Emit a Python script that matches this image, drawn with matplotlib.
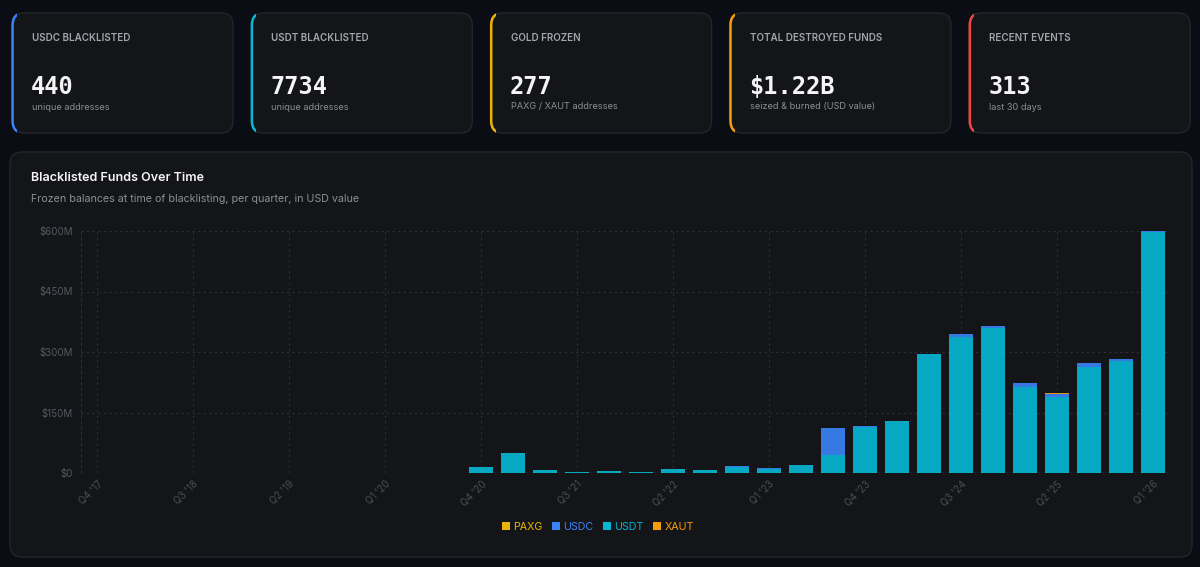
import matplotlib
matplotlib.use("Agg")
import matplotlib.pyplot as plt
from matplotlib.patches import FancyBboxPatch, Rectangle, Patch
import numpy as np

# quarters on the x axis
quarters = ["Q4 '17", "Q1 '18", "Q2 '18", "Q3 '18", "Q4 '18", "Q1 '19", "Q2 '19",
            "Q3 '19", "Q4 '19", "Q1 '20", "Q2 '20", "Q3 '20", "Q4 '20", "Q1 '21",
            "Q2 '21", "Q3 '21", "Q4 '21", "Q1 '22", "Q2 '22", "Q3 '22", "Q4 '22",
            "Q1 '23", "Q2 '23", "Q3 '23", "Q4 '23", "Q1 '24", "Q2 '24", "Q3 '24",
            "Q4 '24", "Q1 '25", "Q2 '25", "Q3 '25", "Q4 '25", "Q1 '26"]

# frozen value per quarter, $M
paxg = [0] * 34
usdc = [0, 0, 0, 0, 0, 0, 0, 0, 0, 0, 0, 0, 0, 0, 0, 0, 1.5, 0, 0, 0, 1.5,
        2, 0, 67, 1, 1, 1, 8, 5, 10, 8, 8, 5, 1]
usdt = [0, 0, 0, 0, 0.5, 0, 0, 0, 0, 0, 0.8, 0, 15, 50, 7, 3.5, 4, 3, 10, 8.5, 15,
        10, 21, 44, 115, 129, 295, 337, 360, 214, 189, 264, 278, 598]
xaut = [0, 0, 0, 0, 0, 0, 0, 0, 0, 0, 0, 0, 0, 0, 0, 0, 0, 0, 0, 0, 0,
        0, 0, 0, 0, 0, 0, 0, 0, 0, 1.5, 0, 0, 0]

series = ["PAXG", "USDC", "USDT", "XAUT"]
colors = {"PAXG": "#eab308", "USDC": "#3b82f6", "USDT": "#06b6d4", "XAUT": "#f59e0b"}

cards = [
    ("USDC BLACKLISTED", "440", "unique addresses", "#3b82f6"),
    ("USDT BLACKLISTED", "7734", "unique addresses", "#06b6d4"),
    ("GOLD FROZEN", "277", "PAXG / XAUT addresses", "#eab308"),
    ("TOTAL DESTROYED FUNDS", "$1.22B", "seized & burned (USD value)", "#f59e0b"),
    ("RECENT EVENTS", "313", "last 30 days", "#ef4444"),
]

PAGE = "#0a0d13"
CARD = "#141518"
BORDER = "#24262b"
W, H = 1200, 567

fig = plt.figure(figsize=(12, 5.67), dpi=100, facecolor=PAGE)

# background layer in pixel coordinates (y down)
bg = fig.add_axes([0, 0, 1, 1], zorder=0)
bg.set_xlim(0, W)
bg.set_ylim(H, 0)
bg.axis("off")


def card_box(x, y, w, h, accent=None):
    box = FancyBboxPatch((x, y), w, h, boxstyle="round,pad=0,rounding_size=12",
                         facecolor=CARD, edgecolor=BORDER, linewidth=1)
    bg.add_patch(box)
    if accent:
        edge = FancyBboxPatch((x + 0.6, y), w, h, boxstyle="round,pad=0,rounding_size=12",
                              facecolor="none", edgecolor=accent, linewidth=1.8)
        clip = Rectangle((x - 3, y - 3), 8, h + 6, transform=bg.transData)
        bg.add_patch(edge)
        edge.set_clip_path(clip)


for i, (label, value, sub, accent) in enumerate(cards):
    x0 = 12 + i * 239.3
    card_box(x0, 13, 221, 120, accent)
    bg.text(x0 + 20, 38, label, color="#a3a6ac", fontsize=7.1, fontfamily="Inter",
            fontweight="semibold", va="center", ha="left")
    bg.text(x0 + 19, 87, value, color="#f4f4f5", fontsize=17, fontfamily="DejaVu Sans Mono",
            fontweight="bold", va="center", ha="left")
    bg.text(x0 + 20, 107, sub, color="#8b8e94", fontsize=6.6, fontfamily="Inter",
            va="center", ha="left")

card_box(10, 152, 1182, 405)
bg.text(31, 178, "Blacklisted Funds Over Time", color="#f4f4f5", fontsize=9.0,
        fontfamily="Inter", fontweight="semibold", va="center", ha="left")
bg.text(31, 199, "Frozen balances at time of blacklisting, per quarter, in USD value",
        color="#8b8e94", fontsize=7.7, fontfamily="Inter", va="center", ha="left")

# bar chart
ax = fig.add_axes([81 / W, 1 - 473 / H, (1169 - 81) / W, (473 - 231) / H], zorder=2)
ax.set_facecolor("none")
x = np.arange(len(quarters))
bottom = np.zeros(len(quarters))
data = {"PAXG": paxg, "USDC": usdc, "USDT": usdt, "XAUT": xaut}
for name in ["USDT", "USDC", "PAXG", "XAUT"]:
    vals = np.array(data[name], dtype=float)
    ax.bar(x, vals, 0.78, bottom=bottom, color=colors[name], alpha=0.92,
           linewidth=0, zorder=3)
    bottom += vals

ax.set_xlim(-0.5, len(quarters) - 0.5)
ax.set_ylim(0, 600)
yt = [0, 150, 300, 450, 600]
ax.set_yticks(yt)
ax.set_yticklabels(["$0" if v == 0 else f"${v}M" for v in yt])
ax.set_xticks(x[::3])
ax.set_xticklabels(quarters[::3], rotation=45, ha="right", va="top",
                   rotation_mode="anchor")
ax.tick_params(axis="both", length=0, labelsize=7, labelcolor="#55585f")
ax.tick_params(axis="y", pad=6)
ax.tick_params(axis="x", pad=4, labelcolor="#4a4d53")
for lab in ax.get_xticklabels() + ax.get_yticklabels():
    lab.set_fontfamily("Inter")
ax.grid(True, color="#2c2e33", linestyle=(0, (2, 3)), linewidth=0.8, zorder=0)
for s in ["top", "right", "bottom"]:
    ax.spines[s].set_visible(False)
ax.spines["left"].set_color("#2c2e33")
ax.spines["left"].set_linestyle((0, (2, 3)))
ax.spines["left"].set_linewidth(0.8)

handles = [Patch(facecolor=colors[s], edgecolor="none") for s in series]
fig.legend(handles, series, loc="center", bbox_to_anchor=(598 / W, 1 - 527 / H),
           ncol=4, frameon=False, handlelength=0.75, handleheight=0.75,
           handletextpad=0.3, columnspacing=0.9,
           labelcolor=[colors[s] for s in series], prop={"family": "Inter", "size": 7.7})

fig.savefig("out.png", dpi=100, facecolor=PAGE)
